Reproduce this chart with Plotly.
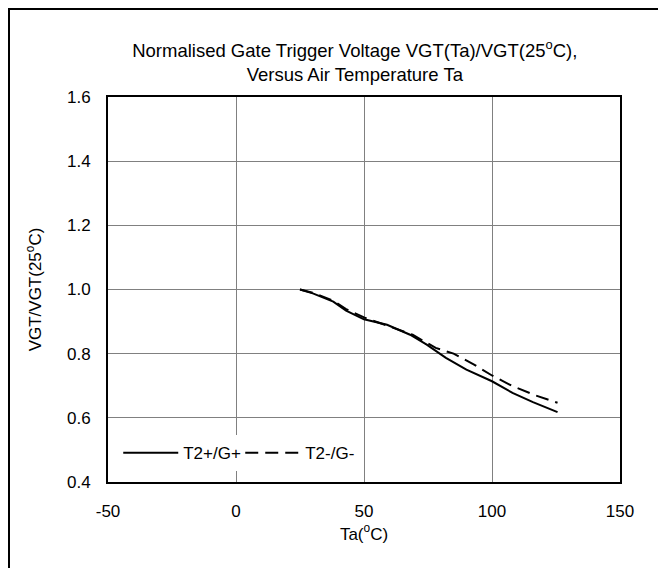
import plotly.graph_objects as go

ta_pos = [25, 30, 38, 43, 50, 59, 68, 74.5, 82, 90, 100, 108, 116, 125.6]
vgt_pos = [1.0, 0.988, 0.962, 0.934, 0.907, 0.89, 0.859, 0.828, 0.787, 0.75, 0.714, 0.678, 0.649, 0.618]

ta_neg = [25, 30, 38, 43, 50, 60, 69, 78, 85, 93, 100, 108, 117, 125.6]
vgt_neg = [1.0, 0.99, 0.965, 0.939, 0.913, 0.885, 0.859, 0.818, 0.8, 0.766, 0.732, 0.699, 0.67, 0.647]

x_ticks = [-50, 0, 50, 100, 150]
y_ticks = [0.4, 0.6, 0.8, 1.0, 1.2, 1.4, 1.6]

FAM = "Liberation Sans, Arial, sans-serif"
font = dict(family=FAM, size=17, color="black")

fig = go.Figure()
fig.add_trace(go.Scatter(x=ta_pos, y=vgt_pos, mode="lines", name="T2+/G+",
                         line=dict(color="black", width=2)))
fig.add_trace(go.Scatter(x=ta_neg, y=vgt_neg, mode="lines", name="T2-/G-",
                         line=dict(color="black", width=2, dash="13px,7px")))

fig.update_layout(
    width=666, height=568,
    margin=dict(l=100, r=54, t=89, b=94),
    paper_bgcolor="white", plot_bgcolor="white",
    font=font,
    title=dict(text="Normalised Gate Trigger Voltage VGT(Ta)/VGT(25<sup>o</sup>C),<br>Versus Air Temperature Ta",
               x=0.482, xref="paper", xanchor="center",
               y=1 - 49 / 568, yref="container", yanchor="middle",
               font=dict(family=FAM, size=18.5, color="black")),
    xaxis=dict(range=[-50, 150], tickvals=x_ticks, ticktext=[str(v) for v in x_ticks],
               showgrid=True, gridcolor="#808080", gridwidth=1,
               showline=True, linecolor="black", linewidth=2, mirror=True,
               zeroline=False, ticks="", ticklen=0, ticklabelstandoff=13,
               tickfont=font,
               title=dict(text="Ta(<sup>o</sup>C)", standoff=6, font=font)),
    yaxis=dict(range=[0.4, 1.6], tickvals=y_ticks, ticktext=["%.1f" % v for v in y_ticks],
               showgrid=True, gridcolor="#808080", gridwidth=1,
               showline=True, linecolor="black", linewidth=2, mirror=True,
               zeroline=False, ticks="", ticklen=0, ticklabelstandoff=12,
               tickfont=font,
               title=dict(text="VGT/VGT(25<sup>o</sup>C)", standoff=21, font=font)),
    showlegend=True,
    legend=dict(orientation="h", x=0.02, y=0.075, xanchor="left", yanchor="middle",
                bgcolor="white", borderwidth=0, font=font, itemwidth=55,
                entrywidth=52, entrywidthmode="pixels",
                tracegroupgap=0),
)

fig.add_shape(type="rect", xref="paper", yref="paper",
              x0=-99 / 512, x1=1 + 53 / 512, y0=-93 / 385, y1=1 + 88 / 385,
              line=dict(color="black", width=2), layer="above")

fig.write_html("out.html")
